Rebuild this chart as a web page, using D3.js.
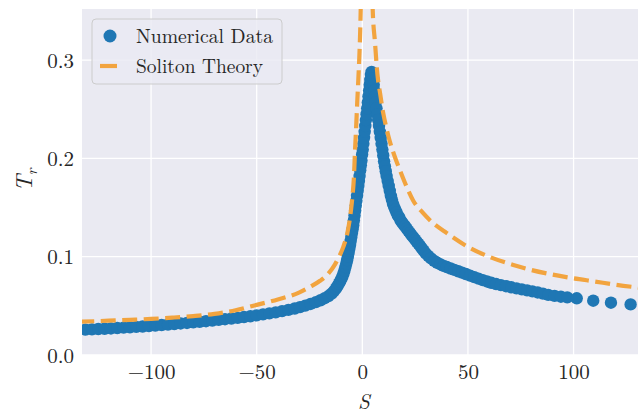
<!DOCTYPE html>
<html><head><meta charset="utf-8">
<script src="https://cdn.jsdelivr.net/npm/d3@7"></script>
<style>
html,body{margin:0;padding:0;background:#fff;}
svg{display:block;}
text{font-family:"Latin Modern Roman","CMU Serif","Liberation Serif","DejaVu Serif",serif;fill:#262626;}
</style></head>
<body>
<svg id="c" width="638" height="414"></svg>
<script>
// ---- data ----
const xTicks = [-100, -50, 0, 50, 100];
const yTicks = [0.0, 0.1, 0.2, 0.3];
const xTickLabels = ["\u2212100", "\u221250", "0", "50", "100"];
const yTickLabels = ["0.0", "0.1", "0.2", "0.3"];
const seriesNames = ["Numerical Data", "Soliton Theory"];

// Numerical data: left tail, rising branch, falling branch, right tail
const numS = [
  -131,-128,-125,-122,-119,-116,-113,-110,-107,-104,-101,-98,-95,-92,-89,-86,-83,-80,-77,-74,-71,-68,-65,-62,-59,-56,-53,-50,-47,-44,-41,-38,-35,-32,-29.5,-27,-24.5,-22,-19.8,-17.8,-16,-14.5,-13.4,
  -12.5,-11.8,-11.1,-10.5,-9.9,-9.4,-8.9,-8.45,-8.0,-7.6,-7.2,-6.85,-6.5,-6.15,-5.8,-5.5,-5.2,-4.9,-4.6,-4.3,-4.0,-3.7,-3.4,-3.1,-2.8,-2.5,-2.2,-1.9,-1.6,-1.3,-1.0,-0.7,-0.4,-0.1,0.2,0.5,0.8,1.1,1.4,1.7,2.0,2.3,2.6,2.9,3.2,3.5,3.8,4.1,4.4,
  4.8,5.1,5.4,5.7,6.0,6.3,6.7,7.1,7.5,7.9,8.3,8.7,9.1,9.5,9.9,10.3,10.7,11.1,11.5,12.0,12.5,13.0,13.5,14.0,14.5,15.0,15.6,16.2,16.8,17.5,18.1,18.8,19.5,20.2,21,21.8,22.6,23.4,24.2,25.0,25.8,26.6,27.4,28.2,29.0,30.0,31.2,
  32.5,34,35.5,37,38.5,40,41.8,43.6,45.4,47.2,49,51,53,55,57,59,61,63.3,65.6,68,70.5,73,75.5,78,80.5,83,85.5,88,91,94,97,101.5,109.3,117.7,127];
const numT = [
  0.0258,0.0261,0.0264,0.0267,0.0270,0.0274,0.0278,0.0282,0.0286,0.0290,0.0295,0.0300,0.0305,0.0310,0.0315,0.0321,0.0326,0.0332,0.0338,0.0344,0.0350,0.0357,0.0364,0.0371,0.0378,0.0386,0.0394,0.0403,0.0413,0.0423,0.0434,0.0446,0.0459,0.0473,0.0487,0.0502,0.0519,0.0538,0.0557,0.0578,0.0600,0.0625,0.0650,
  0.0675,0.0700,0.0725,0.0750,0.0775,0.0800,0.0830,0.0860,0.0895,0.0930,0.0965,0.1000,0.104,0.108,0.112,0.116,0.120,0.124,0.128,0.132,0.137,0.142,0.147,0.152,0.157,0.162,0.167,0.172,0.177,0.182,0.188,0.193,0.198,0.204,0.209,0.215,0.221,0.227,0.233,0.239,0.245,0.251,0.257,0.263,0.269,0.275,0.280,0.285,0.288,
  0.286,0.281,0.275,0.269,0.263,0.257,0.251,0.245,0.239,0.233,0.227,0.221,0.215,0.209,0.203,0.197,0.192,0.187,0.182,0.177,0.172,0.167,0.162,0.158,0.154,0.151,0.148,0.145,0.142,0.140,0.137,0.135,0.133,0.131,0.1285,0.1262,0.1240,0.1218,0.1196,0.1174,0.1152,0.1130,0.1108,0.1085,0.1062,0.1035,0.1008,
  0.0982,0.0958,0.0938,0.0921,0.0907,0.0895,0.0880,0.0866,0.0852,0.0838,0.0824,0.0808,0.0792,0.0777,0.0762,0.0748,0.0735,0.0722,0.0711,0.0700,0.0689,0.0678,0.0668,0.0657,0.0647,0.0636,0.0624,0.0612,0.0601,0.0593,0.0586,0.0577,0.0552,0.0532,0.0515];

// Soliton theory: two branches diverging near S ~ 2
const thLeftS = [-134,-120,-110,-100,-90,-80,-70,-60,-50,-40,-30,-25,-20,-16,-13,-11,-9,-7,-5.5,-4.7,-4,-3.45,-2.9,-2.37,-1.9,-1.42,-1.0,-0.76,-0.5];
const thLeftT = [0.0338,0.0349,0.0358,0.0367,0.0380,0.0396,0.0418,0.0455,0.0510,0.0565,0.0635,0.0690,0.0755,0.0830,0.0920,0.100,0.110,0.125,0.145,0.161,0.180,0.2085,0.233,0.259,0.280,0.303,0.330,0.352,0.380];
const thRightS = [4.6,4.9,6.0,7.1,8.5,9.9,11.3,12.8,15,17.8,20.8,24.1,28.5,33.6,40,50,60,71.5,80,90,100,110,120,131];
const thRightT = [0.380,0.352,0.318,0.2866,0.265,0.246,0.232,0.219,0.204,0.188,0.172,0.157,0.145,0.134,0.124,0.110,0.100,0.0916,0.0865,0.0818,0.0780,0.0748,0.0715,0.0685];

// ---- layout ----
const L = 82, R = 638, T = 9, B = 355;
const svg = d3.select("#c");
const x = d3.scaleLinear().domain([-132.7, 130.5]).range([L, R]);
const y = d3.scaleLinear().domain([0, 0.352]).range([B, T]);

svg.append("rect").attr("x", L).attr("y", T).attr("width", R - L).attr("height", B - T).attr("fill", "#eaeaf2");
svg.append("defs").append("clipPath").attr("id", "clip")
  .append("rect").attr("x", L).attr("y", T).attr("width", R - L).attr("height", B - T);

// grid
const grid = svg.append("g");
grid.selectAll(".gx").data(xTicks).enter().append("line")
  .attr("x1", d => x(d)).attr("x2", d => x(d)).attr("y1", T).attr("y2", B)
  .attr("stroke", "#fff").attr("stroke-width", 1.3);
grid.selectAll(".gy").data(yTicks).enter().append("line")
  .attr("x1", L).attr("x2", R).attr("y1", d => y(d)).attr("y2", d => y(d))
  .attr("stroke", "#fff").attr("stroke-width", 1.3);

// axes (tick labels only)
const xAxis = d3.axisBottom(x).tickValues(xTicks).tickSize(0).tickPadding(9)
  .tickFormat((d, i) => xTickLabels[i]);
const gx = svg.append("g").attr("transform", `translate(0,${B})`).call(xAxis);
gx.select(".domain").remove();
gx.selectAll("text").attr("font-size", 21).attr("dy", "0.72em")
  .style("font-family", '"Latin Modern Roman","CMU Serif","Liberation Serif",serif').attr("fill", "#262626");

const yAxis = d3.axisLeft(y).tickValues(yTicks).tickSize(0).tickPadding(8)
  .tickFormat((d, i) => yTickLabels[i]);
const gy = svg.append("g").attr("transform", `translate(${L},0)`).call(yAxis);
gy.select(".domain").remove();
gy.selectAll("text").attr("font-size", 21).attr("dy", "0.34em")
  .style("font-family", '"Latin Modern Roman","CMU Serif","Liberation Serif",serif').attr("fill", "#262626");

// data
const plot = svg.append("g").attr("clip-path", "url(#clip)");
const numData = numS.map((s, i) => ({s, t: numT[i]}));
plot.selectAll("circle.num").data(numData).enter().append("circle")
  .attr("class", "num")
  .attr("cx", d => x(d.s)).attr("cy", d => y(d.t)).attr("r", 6.2)
  .attr("fill", "#1f77b4");

const line = d3.line().x(d => x(d.s)).y(d => y(d.t)).curve(d3.curveMonotoneX);
const thL = thLeftS.map((s, i) => ({s, t: thLeftT[i]}));
const thR = thRightS.map((s, i) => ({s, t: thRightT[i]}));
[thL, thR].forEach(arr => {
  plot.append("path").datum(arr).attr("d", line)
    .attr("fill", "none").attr("stroke", "#f2a43f").attr("stroke-width", 4.2)
    .attr("stroke-dasharray", "15,6.5");
});

// axis labels
svg.append("text").attr("x", (L + R) / 2 + 4).attr("y", 409).attr("text-anchor", "middle")
  .attr("font-size", 21).attr("font-style", "italic").text("S");
const yl = svg.append("text").attr("transform", "translate(32,180) rotate(-90)")
  .attr("text-anchor", "middle").attr("font-size", 23).attr("font-style", "italic");
yl.append("tspan").text("T");
yl.append("tspan").attr("font-size", 16).attr("dy", 5).text("r");

// legend
const lg = svg.append("g");
lg.append("rect").attr("x", 92).attr("y", 19).attr("width", 190).attr("height", 65).attr("rx", 4)
  .attr("fill", "#eaeaf2").attr("fill-opacity", 0.8).attr("stroke", "#cccccc").attr("stroke-width", 1);
lg.append("circle").attr("cx", 110).attr("cy", 36).attr("r", 6.5).attr("fill", "#1f77b4");
lg.append("line").attr("x1", 100).attr("x2", 117).attr("y1", 66).attr("y2", 66)
  .attr("stroke", "#f2a43f").attr("stroke-width", 4.2);
lg.append("text").attr("x", 136).attr("y", 43).attr("font-size", 20).attr("textLength", 137)
  .attr("lengthAdjust", "spacingAndGlyphs").text(seriesNames[0]);
lg.append("text").attr("x", 136).attr("y", 73).attr("font-size", 20).attr("textLength", 127)
  .attr("lengthAdjust", "spacingAndGlyphs").text(seriesNames[1]);
</script>
</body></html>
